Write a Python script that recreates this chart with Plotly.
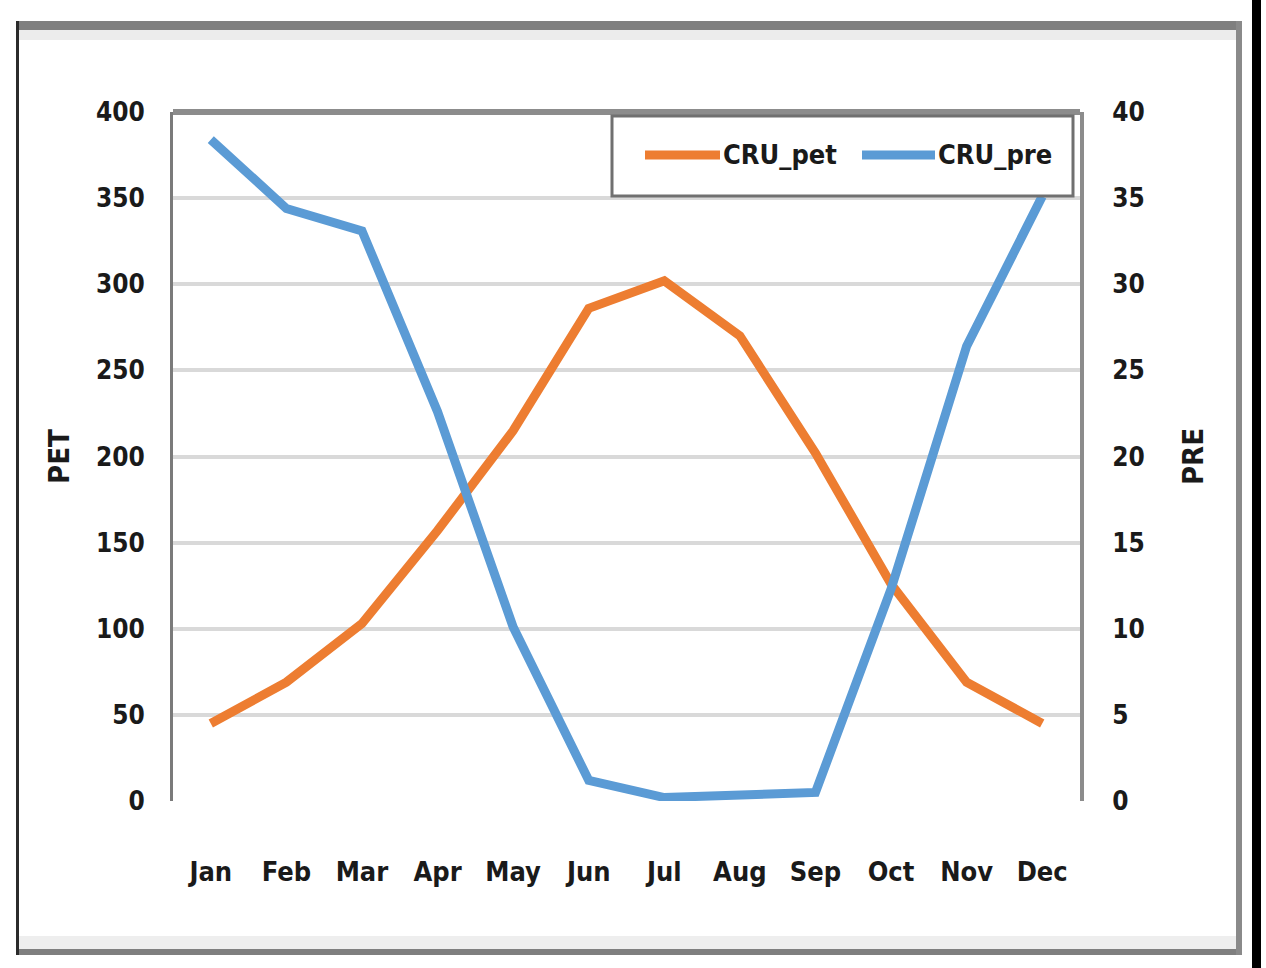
import plotly.graph_objects as go

# Monthly climatology: potential evapotranspiration (PET) and precipitation (PRE)
months = ["Jan", "Feb", "Mar", "Apr", "May", "Jun",
          "Jul", "Aug", "Sep", "Oct", "Nov", "Dec"]
cru_pet = [45, 69, 103, 157, 215, 286, 302, 270, 202, 126, 69, 45]
cru_pre = [38.4, 34.4, 33.1, 22.6, 10.1, 1.2, 0.2, 0.3, 0.5, 12.3, 26.4, 35.1]

pet_ticks = list(range(0, 401, 50))
pre_ticks = list(range(0, 41, 5))

ORANGE = "#ED7D31"
BLUE = "#5B9BD5"
FONT = "DejaVu Sans Condensed, Liberation Sans, sans-serif"
TEXT = "#1a1a1a"

W, H = 1266, 968
L, R, T, B = 173, 186, 112, 167
PW, PH = W - L - R, H - T - B


def px(x):
    return (x - L) / PW


def py(y):
    return (H - B - y) / PH


fig = go.Figure()
fig.add_trace(go.Scatter(x=months, y=cru_pet, name="CRU_pet", mode="lines",
                         line=dict(color=ORANGE, width=9), yaxis="y"))
fig.add_trace(go.Scatter(x=months, y=cru_pre, name="CRU_pre", mode="lines",
                         line=dict(color=BLUE, width=9), yaxis="y2"))

shapes = []
# outer frame of the chart
shapes.append(dict(type="rect", xref="paper", yref="paper", layer="below",
                   x0=px(18), x1=px(1241), y0=py(30), y1=py(40),
                   fillcolor="#ececec", line_width=0))
shapes.append(dict(type="rect", xref="paper", yref="paper", layer="below",
                   x0=px(18), x1=px(1241), y0=py(936), y1=py(950),
                   fillcolor="#eeeeee", line_width=0))
shapes.append(dict(type="rect", xref="paper", yref="paper",
                   x0=px(17), x1=px(1242), y0=py(21), y1=py(30),
                   fillcolor="#7f7f7f", line_width=0))
shapes.append(dict(type="rect", xref="paper", yref="paper",
                   x0=px(17), x1=px(1242), y0=py(949), y1=py(955),
                   fillcolor="#7f7f7f", line_width=0))
shapes.append(dict(type="rect", xref="paper", yref="paper",
                   x0=px(16), x1=px(19), y0=py(21), y1=py(955),
                   fillcolor="#2b2b2b", line_width=0))
shapes.append(dict(type="rect", xref="paper", yref="paper",
                   x0=px(1236), x1=px(1242), y0=py(21), y1=py(955),
                   fillcolor="#8a8a8a", line_width=0))
shapes.append(dict(type="rect", xref="paper", yref="paper",
                   x0=px(1252), x1=px(1261), y0=py(0), y1=py(968),
                   fillcolor="#000000", line_width=0))
# plot-area border (top edge heavier)
shapes.append(dict(type="line", xref="paper", yref="paper",
                   x0=0, x1=1.0, y0=1.0, y1=1.0,
                   line=dict(color="#8c8c8c", width=6)))

# legend box with line samples
shapes.append(dict(type="rect", xref="paper", yref="paper",
                   x0=px(612), x1=px(1073), y0=py(196), y1=py(116),
                   fillcolor="white", line=dict(color="#707070", width=3)))
shapes.append(dict(type="line", xref="paper", yref="paper",
                   x0=px(645), x1=px(720), y0=py(155), y1=py(155),
                   line=dict(color=ORANGE, width=9)))
shapes.append(dict(type="line", xref="paper", yref="paper",
                   x0=px(862), x1=px(935), y0=py(155), y1=py(155),
                   line=dict(color=BLUE, width=9)))

legend_font = dict(family=FONT, size=27, color=TEXT)
annotations = [
    dict(xref="paper", yref="paper", x=px(721), y=py(155), text="<b>CRU_pet</b>",
         xanchor="left", yanchor="middle", showarrow=False, font=legend_font),
    dict(xref="paper", yref="paper", x=px(936), y=py(155), text="<b>CRU_pre</b>",
         xanchor="left", yanchor="middle", showarrow=False, font=legend_font),
]

num_font = dict(family=FONT, size=26, color=TEXT, weight="bold")
month_font = dict(family=FONT, size=27, color=TEXT, weight="bold")
title_font = dict(family=FONT, size=29, color=TEXT)

fig.update_layout(
    width=W, height=H,
    margin=dict(l=L, r=R, t=T, b=B),
    paper_bgcolor="white", plot_bgcolor="white",
    showlegend=False,
    shapes=shapes,
    annotations=annotations,
    xaxis=dict(type="category", range=[-0.5, 11.5], showgrid=False,
               showline=False, zeroline=False, ticks="",
               tickfont=month_font, ticklabelstandoff=52, automargin=False),
    yaxis=dict(range=[0, 400], tickvals=pet_ticks, showgrid=True,
               gridcolor="#d9d9d9", gridwidth=4, zeroline=False,
               showline=True, linecolor="#7a7a7a", linewidth=3,
               ticks="", tickfont=num_font, ticklabelstandoff=20,
               title=dict(text="<b>PET</b>", standoff=18, font=title_font),
               automargin=False),
    yaxis2=dict(range=[0, 40], tickvals=pre_ticks, overlaying="y", side="right",
                showgrid=False, zeroline=False,
                showline=True, linecolor="#8c8c8c", linewidth=4,
                ticks="", tickfont=num_font, ticklabelstandoff=23,
                title=dict(text="<b>PRE</b>", standoff=40, font=title_font),
                automargin=False),
)

fig.write_html("out.html")
